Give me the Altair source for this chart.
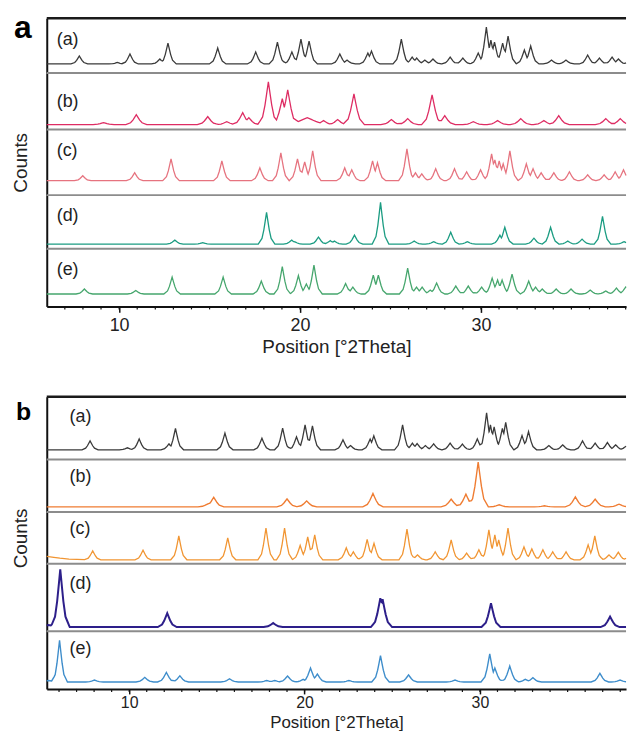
import altair as alt
import pandas as pd

FONT = "Liberation Sans"
W = 583

# ---------------- data ----------------
# x ranges (°2Theta) of the visible plot
A_X = [6.0, 38.02]
B_X = [5.3, 38.33]
TICK_VALUES = [10, 20, 30]
MINOR_A = list(range(7, 39))
MINOR_B = list(range(6, 39))
LABELS = ["(a)", "(b)", "(c)", "(d)", "(e)"]

# peaks: (position °2Theta, counts above baseline[, relative width])
A_a = [(7.8, 8), (9.9, 1.5), (10.6, 10), (12.25, 5), (12.7, 21), (15.45, 16), (17.55, 12),
       (18.75, 22), (19.55, 12), (20.05, 25), (20.5, 23), (22.2, 10), (22.6, 4), (23.75, 11),
       (23.95, 13), (25.6, 25), (26.2, 7), (26.45, 6), (26.9, 4), (27.35, 5), (28.3, 7),
       (29.0, 6), (29.85, 11), (30.3, 37), (30.55, 24), (30.75, 22), (31.2, 21), (31.5, 28),
       (32.4, 14), (32.75, 18), (33.9, 4), (34.7, 4), (35.9, 9), (36.55, 6), (37.25, 7),
       (37.6, 5), (38.2, 3)]
A_b = [(9.14, 2), (10.95, 10), (14.9, 8), (15.95, 3), (16.83, 12), (17.17, 7), (18.25, 43),
       (19.02, 26), (19.32, 35), (20.4, 7, 2.5), (21.3, 4), (22.08, 5), (22.98, 31), (25.05, 5),
       (25.95, 6), (27.3, 30), (28.0, 9), (29.58, 3), (30.92, 4), (32.2, 6), (33.48, 4),
       (34.3, 9), (36.9, 6), (37.7, 6)]
A_c = [(7.99, 5), (10.86, 8), (12.87, 22), (15.68, 20), (17.78, 13), (18.94, 28), (19.86, 22),
       (20.26, 19), (20.7, 30), (22.47, 13), (22.86, 11), (24.01, 20), (24.28, 18), (25.91, 32),
       (26.38, 8), (26.73, 7), (27.5, 12), (28.54, 12), (29.21, 9), (29.98, 11), (30.59, 27),
       (30.77, 21), (31.01, 20), (31.23, 17), (31.6, 30), (32.51, 17), (32.88, 12), (33.33, 8),
       (34.03, 8), (34.89, 9), (35.9, 6), (36.81, 6), (37.42, 9), (37.88, 11), (38.28, 6)]
A_d = [(13.08, 4), (14.62, 1.5), (18.15, 32), (19.54, 4), (19.7, 2.5), (21.02, 7), (21.67, 3.5),
       (21.9, 3), (23.01, 9), (24.45, 42), (26.31, 3), (27.39, 2.5), (28.33, 12), (29.25, 2.5),
       (31.05, 9), (31.32, 17), (32.93, 6), (33.85, 17), (34.8, 3), (35.59, 5), (36.72, 28),
       (37.91, 2.5), (38.4, 7)]
A_e = [(8.08, 5), (10.92, 3.5), (12.93, 17), (15.75, 17), (17.86, 13), (19.02, 27.5),
       (19.91, 18.5), (20.35, 10), (20.77, 29), (22.52, 10.5), (22.92, 7), (24.05, 19),
       (24.33, 19), (25.95, 26), (26.44, 7), (26.75, 7), (27.2, 4), (27.55, 11), (28.61, 8),
       (29.3, 8), (30.04, 7), (30.62, 16), (30.92, 14), (31.17, 14), (31.72, 20), (32.64, 13),
       (33.02, 7), (33.39, 5), (34.16, 5), (34.98, 5), (36.04, 4), (36.9, 3), (37.49, 6),
       (38.0, 7)]

B_a = [(7.77, 9), (9.9, 2), (10.57, 11), (12.27, 6), (12.64, 21.6), (15.46, 16.7), (17.57, 11.7),
       (18.75, 21.7), (19.54, 13), (20.03, 25), (20.45, 24), (22.19, 10), (22.62, 4.3),
       (23.74, 10.7), (23.95, 14), (25.59, 25), (26.15, 6.7), (26.42, 6.3), (26.89, 4.2),
       (27.36, 6), (28.3, 6.7), (29.0, 5.7), (29.85, 11), (30.38, 37.3), (30.6, 25),
       (30.81, 23), (31.28, 21.6), (31.47, 27.7), (32.4, 14.3), (32.77, 18.3), (33.93, 4.3),
       (34.72, 5), (35.85, 9), (36.57, 6.7), (37.27, 7.3), (37.74, 5), (38.31, 3.3)]
B_b = [(14.5, 3), (14.82, 9.5), (19.0, 8), (20.12, 6), (23.9, 13.5), (28.36, 7.7), (29.2, 12.7),
       (29.9, 45), (31.1, 2), (33.68, 1), (35.44, 10), (36.57, 7.7), (37.93, 2.7)]
B_c = [(5.3, 3.5, 5), (7.92, 9), (10.79, 9.7), (12.83, 24), (15.62, 22), (17.8, 32), (18.86, 32),
       (19.75, 14.5), (20.18, 23), (20.58, 25), (22.38, 12), (22.78, 8), (23.57, 20.5),
       (23.96, 16.5), (25.84, 31), (26.44, 5), (27.45, 8), (28.36, 20), (29.24, 6.7),
       (29.94, 10), (30.51, 30), (30.85, 25), (31.07, 20), (31.6, 32), (32.51, 13), (32.96, 11),
       (33.59, 10), (34.15, 8), (34.91, 8), (36.17, 15), (36.55, 24), (37.36, 5), (37.89, 7.7),
       (38.5, 4)]
B_d = [(5.4, 2, 2), (6.07, 58), (12.17, 14), (18.21, 4), (24.32, 29), (24.45, 28), (30.63, 24),
       (37.42, 10.6)]
B_e = [(5.4, 1.5, 2), (6.03, 42, 0.9), (8.02, 2), (10.89, 4.7), (12.12, 9.7), (12.89, 6.3),
       (15.72, 3.2), (17.84, 1.5), (18.3, 1.5), (19.03, 6), (19.92, 2.7), (20.34, 14),
       (20.73, 8), (22.53, 1.5), (24.33, 26.5), (25.93, 7.2), (28.58, 2), (30.56, 28.3),
       (30.85, 14), (31.7, 16), (32.59, 2.7), (33.02, 4.3), (36.84, 8.7), (37.99, 2)]

# ---------------- layout / style ----------------
A_H = [55, 57, 66, 54, 58]
A_BASE = [9, 5, 14.5, 4.7, 12.5]
A_LABEL_Y = [21.5, 29.5, 21.5, 21.5, 21.5]
A_COLORS = ["#3a3a3a", "#de2c63", "#e6737f", "#1b9c82", "#46a66d"]
A_WIDTHS = [1.15, 1.45, 1.15, 1.15, 1.15]
A_STROKE = [1.3, 1.3, 1.3, 1.3, 1.3]
A_AXIS = {"tickSize": 6, "labelPadding": 4, "labelFontSize": 18, "titlePadding": 3,
          "titleFontSize": 19}

B_H = [63, 53, 52, 68, 58]
B_BASE = [9.7, 5.3, 4, 4.3, 7]
B_LABEL_Y = [20.5, 17.5, 17.5, 20.5, 17.5]
B_COLORS = ["#3a3a3a", "#ef7c32", "#f19532", "#2d1f8a", "#3e8dcb"]
B_WIDTHS = [1.15, 1.45, 1.15, 1.35, 1.25]
B_STROKE = [1.3, 1.4, 1.3, 2.0, 1.4]
B_AXIS = {"tickSize": 5, "labelPadding": 1, "labelFontSize": 16, "titlePadding": 4,
          "titleFontSize": 17}

SHAPE = [(0.0, 1.0), (0.07, 0.7), (0.13, 0.45), (0.22, 0.18), (0.4, 0.0)]


def profile(peaks, xmin, xmax, wscale):
    xs = {xmin, xmax}
    for pk in peaks:
        w = wscale * (pk[2] if len(pk) > 2 else 1.0)
        for d, _ in SHAPE:
            xs.add(round(pk[0] - d * w, 4))
            xs.add(round(pk[0] + d * w, 4))
    xs = sorted(x for x in xs if xmin <= x <= xmax)
    rows = []
    for x in xs:
        v = 0.0
        for pk in peaks:
            w = wscale * (pk[2] if len(pk) > 2 else 1.0)
            dx = abs(x - pk[0]) / w
            f = 0.0
            for (d0, f0), (d1, f1) in zip(SHAPE, SHAPE[1:]):
                if d0 <= dx <= d1:
                    f = f0 + (f1 - f0) * (dx - d0) / (d1 - d0)
                    break
            v = max(v, pk[1] * f)
        rows.append({"pos": x, "cnt": v})
    return pd.DataFrame(rows)


def subpanel(peaks, xdom, H, base, color, stroke, wscale, label, label_x, label_y,
             first, last, counts, minor, big, axcfg):
    xs = alt.Scale(domain=xdom, nice=False, zero=False)
    ys = alt.Scale(domain=[-base, H - base], nice=False, zero=False)
    yaxis = alt.Axis(title="Counts" if counts else None, labels=False, ticks=False, grid=False,
                     domainColor="#111111", domainWidth=2, titleFont=FONT, titleFontSize=19,
                     titleFontWeight="normal", titleColor="#222222", titlePadding=16)
    if last:
        xaxis = alt.Axis(values=TICK_VALUES, title="Position [°2Theta]", grid=False,
                         domainColor="#111111", domainWidth=2, tickColor="#111111",
                         tickWidth=1.5, tickSize=axcfg["tickSize"], labelFont=FONT,
                         labelFontSize=axcfg["labelFontSize"],
                         labelColor="#222222", labelPadding=axcfg["labelPadding"],
                         titleFont=FONT, titleFontSize=axcfg["titleFontSize"],
                         titleFontWeight="normal", titleColor="#222222",
                         titlePadding=axcfg["titlePadding"], format="d")
    else:
        xaxis = None
    df = profile(peaks, xdom[0], xdom[1], wscale)
    line = alt.Chart(df).mark_line(color=color, strokeWidth=stroke).encode(
        x=alt.X("pos:Q", scale=xs, axis=xaxis),
        y=alt.Y("cnt:Q", scale=ys, axis=yaxis),
    )
    rule = alt.Chart(pd.DataFrame({"k": [0]})).mark_rule(
        color="#1a1a1a" if first else "#8c8c8c", strokeWidth=2.5 if first else 2
    ).encode(x=alt.value(0), x2=alt.value(W), y=alt.value(0))
    text = alt.Chart(pd.DataFrame({"lab": [label]})).mark_text(
        font=FONT, fontSize=18, color="#222222", align="left", baseline="middle"
    ).encode(text="lab:N", x=alt.value(label_x), y=alt.value(label_y))
    layers = [line, rule, text]
    if minor is not None:
        mt = alt.Chart(pd.DataFrame({"pos": minor})).mark_rule(
            color="#111111", strokeWidth=1.2
        ).encode(x=alt.X("pos:Q", scale=xs, axis=xaxis), y=alt.value(H), y2=alt.value(H + 3))
        layers.append(mt)
    if big is not None:
        bt = alt.Chart(pd.DataFrame({"lab": [big[0]]})).mark_text(
            font=FONT, fontSize=big[1], fontWeight="bold", color="#000000",
            align="left", baseline="top"
        ).encode(text="lab:N", x=alt.value(big[2]), y=alt.value(big[3]))
        layers.append(bt)
    return alt.layer(*layers).properties(width=W, height=H)


def panel(traces, xdom, Hs, bases, colors, strokes, wscales, label_x, label_ys, minor, big,
          axcfg):
    subs = []
    for i, pk in enumerate(traces):
        subs.append(subpanel(pk, xdom, Hs[i], bases[i], colors[i], strokes[i], wscales[i],
                             LABELS[i], label_x, label_ys[i], i == 0, i == 4, i == 2,
                             minor if i == 4 else None, big if i == 0 else None, axcfg))
    return alt.vconcat(*subs, spacing=0, bounds="flush")


pa = panel([A_a, A_b, A_c, A_d, A_e], A_X, A_H, A_BASE, A_COLORS, A_STROKE, A_WIDTHS,
           10, A_LABEL_Y, MINOR_A, ("a", 32, -33, -5), A_AXIS)
pb = panel([B_a, B_b, B_c, B_d, B_e], B_X, B_H, B_BASE, B_COLORS, B_STROKE, B_WIDTHS,
           23, B_LABEL_Y, MINOR_B, ("b", 25, -31, 3.5), B_AXIS)

chart = alt.vconcat(pa, pb, spacing=39).properties(
    padding={"left": 4, "top": 2, "right": 0, "bottom": 0}
).configure_view(stroke=None).configure_axis(grid=False)

chart.save("out.html", embed_options={"renderer": "svg", "actions": False})
